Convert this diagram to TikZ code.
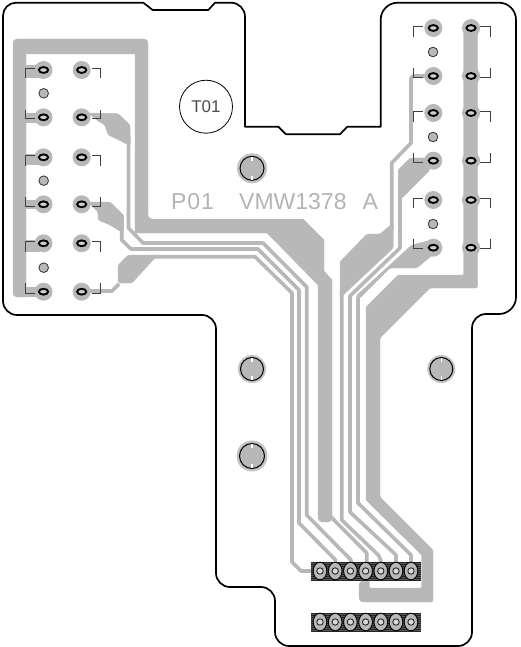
\documentclass[tikz,border=0pt]{standalone}
\usepackage{fontspec}
\setmainfont{Liberation Sans}
\definecolor{cu}{HTML}{B8B8B8}
\definecolor{silk}{HTML}{B4B4B4}
\tikzset{
  x=1pt,y=-1pt,
  outline/.style={draw=black,line width=1.7pt,line join=round},
  copper/.style={fill=cu,draw=cu,line width=0.3pt,rounded corners=1.5pt},
  bigcopper/.style={copper,rounded corners=4pt},
  wire/.style={draw=cu,line width=3.6pt,line join=round},
  bracket/.style={draw=black!75,line width=1pt},
  padring/.style={fill=cu,draw=none},
  padhole/.style={fill=cu!70!white,draw=black,line width=1.9pt},
  via/.style={fill=cu,draw=black!80,line width=0.8pt},
  silktext/.style={text=silk,inner sep=0pt,font=\fontsize{23}{23}\selectfont}
}
\newcommand{\padat}[2]{\fill[padring] (#1,#2) circle (9);\draw[padhole] (#1,#2) ellipse (4.6 and 2.9);}
\newcommand{\mounthole}[4]{% x y outer inner
  \fill[cu!85!white] (#1,#2) circle (#3);
  \draw[fill=cu,draw=black,line width=1pt] (#1,#2) circle (#4);
  \draw[white,line width=1.3pt] (#1,#2-#4+0.8) -- ++(0,3.6);
  \draw[white,line width=1.3pt] (#1,#2+#4-0.8) -- ++(0,-3.6);}
\newcommand{\headerstrip}[1]{%
  \fill[black!65] (311,#1-9.5) rectangle (421,#1+9.5);
  \foreach \k in {0,2,...,18}{\draw[black!85,line width=0.7pt] (311,#1-9+\k) -- (421,#1-9+\k);}
  \foreach \x in {320,335.2,350.4,365.6,380.8,396,411}{
    \draw[fill=cu,draw=black,line width=0.9pt] (\x,#1) ellipse (6.8 and 8.8);
    \draw[fill=cu!55!white,draw=black!85,line width=0.9pt] (\x,#1) circle (3.2);}}
\begin{document}
\begin{tikzpicture}
\useasboundingbox (0,0) rectangle (521,647);
\fill[white] (0,0) rectangle (521,647);
% big left frame
\path[bigcopper] (80,39) -- (148,39) -- (148,219) [rounded corners=0pt] -- (303,219) -- (324,240) -- (324,271) -- (332,280) -- (332,518) [rounded corners=4pt] -- (332,522) -- (318,522) [rounded corners=0pt] -- (318,285) -- (267,233) -- (135,233) -- (135,54) -- (26,54) -- (26,297) [rounded corners=4pt] -- (13,297) -- (13,39) -- cycle;
\foreach \y/\h in {65/13,113/10,154/11,200/9,240/12,287/10}{\fill[cu] (20,\y) rectangle ++(20,\h);}
% left thin traces and pours
\path[copper] (88,113) -- (118,113.5) -- (130,125) -- (130.5,146) -- (115,138) -- (108,135) -- (105,125) -- (98,121) -- cycle;
\path[copper] (88,202) -- (110,202) -- (123.5,215) -- (123.5,233) -- (118,230) -- (110,225) -- (98,220) -- (98,212) -- cycle;
\path[copper] (118,265) -- (128,255) -- (157,255) -- (153,260) -- (132,283) -- (118,283) -- cycle;
\draw[wire] (128.5,140) -- (128.5,228) -- (143,243) -- (263,243) -- (306.7,287) -- (306.7,515) -- (351,560) -- (351,566);
\draw[wire] (121.7,215) -- (121.7,240) -- (131,249) -- (258,249) -- (299,290) -- (299,523) -- (335.5,560) -- (335.5,566);
\draw[wire] (150,256.7) -- (255,256.7) -- (292,293) -- (292,562) -- (301,571) -- (320,571);
\draw[wire] (85,291) -- (112,291) -- (119,284);
% right group
\path[copper] (463.5,28) -- (477.7,28) -- (477.7,288) -- (430,288) -- (380,338) -- (380,497) -- (433,550) -- (433,602) [rounded corners=4pt] -- (359,602) -- (359,581) [rounded corners=1pt] -- (369.3,581) -- (369.3,588) -- (421.7,588) -- (421.7,555) -- (366,500) -- (366,307) -- (398,275) -- (463.5,275) -- cycle;
\path[copper] (393.3,223) -- (380,234) -- (367,234) -- (340,261.7) -- (340,298) -- (393.3,248) -- cycle;
\path[copper] (398,170) -- (410,158) -- (430,158) -- (430,170) -- (400,200) -- cycle;
\path[copper] (356,296) -- (411.7,245) -- (428,241) -- (436,252) -- (417,268) -- (390,268) -- (358,300) -- cycle;
\draw[wire] (433,76) -- (413,76) -- (411,78) -- (411,143) -- (391.7,163) -- (391.7,230);
\draw[wire] (341.7,290) -- (341.7,520) -- (378.3,555) -- (380.7,560) -- (380.7,566);
\draw[wire] (400,175) -- (400,248) -- (350,296) -- (350,512) -- (396,555) -- (396,566);
\draw[wire] (358,298) -- (358,503) -- (411,555) -- (411,566);
\draw[wire] (330,516) -- (366.7,553) -- (366.7,566);
% pads
\foreach \y in {70,117.3,157.3,204.3,243.3,291.7}{\padat{43.5}{\y}\padat{81.7}{\y}}
\foreach \y in {28,76,113,160.7,200,247.7}{\padat{433.3}{\y}\padat{471}{\y}}
\foreach \x/\y in {43.7/93.3,43.7/180.7,43.7/267.7,433/52,433/137,433/224}{\draw[via] (\x,\y) circle (4.8);}
% brackets left block
\foreach \a/\b in {78/68.3,166/155.5,252/241.7}{
  \draw[bracket] (25,\a) -- (25,\b) -- (35,\b);
  \draw[bracket] (92,\b) -- (100,\b) -- (100,\a);}
\foreach \a/\b in {110/119,197/206,283/293}{
  \draw[bracket] (25,\a) -- (25,\b) -- (35,\b);
  \draw[bracket] (92,\b) -- (100,\b) -- (100,\a);}
% brackets right block
\foreach \a/\b in {37/26.7,122/111.7,208/198}{
  \draw[bracket] (413.3,\a) -- (413.3,\b) -- (423,\b);
  \draw[bracket] (480,\b) -- (490,\b) -- (490,\a);}
\foreach \a/\b in {68/77.7,153/162.7,239/248.7}{
  \draw[bracket] (413.3,\a) -- (413.3,\b) -- (423,\b);
  \draw[bracket] (480,\b) -- (490,\b) -- (490,\a);}
% holes
\mounthole{252}{168.3}{15}{12}
\mounthole{252}{369}{14}{11.5}
\mounthole{441.3}{369}{14}{11.5}
\mounthole{252}{456}{15.5}{12.5}
% headers
\headerstrip{571}
\headerstrip{622}
% text
\node[silktext,anchor=base west] (p01) at (171,209.5) {\addfontfeature{LetterSpace=4}P01};
\node[silktext,anchor=base west] (vmw) at (239,209.5) {VMW1378};
\node[silktext,anchor=base west] (rev) at (362.5,209.5) {A};
\node[circle,draw=black,line width=0.8pt,minimum size=53pt,inner sep=0pt,text=black!70,font=\fontsize{17}{17}\selectfont] (t01) at (206,106.7) {T01};
% outline
\draw[outline]
  (3,30) [rounded corners=13pt] -- (3,2.7) [sharp corners] -- (143.3,2.7) -- (152.7,10) -- (208.3,10) -- (215,2.7)
  [rounded corners=14pt] -- (245,2.7) [rounded corners=0pt] -- (245,126.7) -- (278.3,126.7) -- (286,134.3) -- (340,134.3) -- (347.3,126.7) -- (380.7,126.7)
  [rounded corners=17pt] -- (380.7,2.7) -- (516,2.7) -- (516,314)
  [rounded corners=14pt] -- (472,314) -- (472,646) -- (275,646) -- (275,587) -- (216,587)
  -- (216,315) -- (3,315) -- (3,30);
\end{tikzpicture}
\end{document}
